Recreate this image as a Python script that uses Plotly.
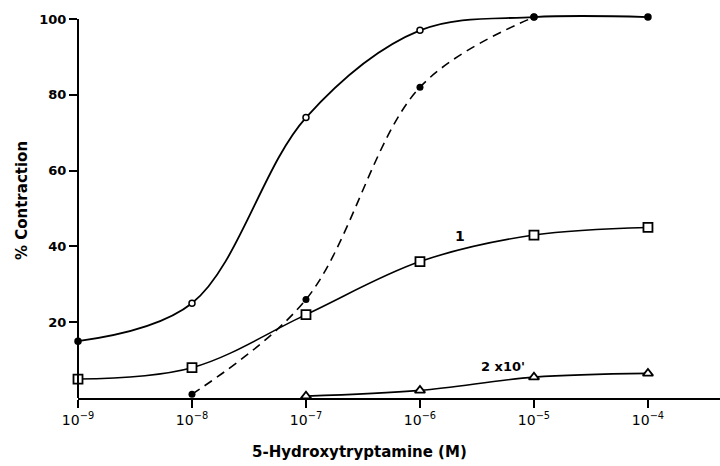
import plotly.graph_objects as go

conc = [1e-9, 1e-8, 1e-7, 1e-6, 1e-5, 1e-4]
control = [15, 25, 74, 97, 100.5, 100.5]
control_fill = ["black", "white", "white", "white", "black", "black"]
dashed_conc = [1e-8, 1e-7, 1e-6, 1e-5]
dashed_vals = [1, 26, 82, 100.5]
sq_vals = [5, 8, 22, 36, 43, 45]
tri_conc = [1e-7, 1e-6, 1e-5, 1e-4]
tri_vals = [0.5, 2, 5.5, 6.5]
xtick_vals = [1e-9, 1e-8, 1e-7, 1e-6, 1e-5, 1e-4]
xtick_text = ["10<sup>−9</sup>", "10<sup>−8</sup>", "10<sup>−7</sup>", "10<sup>−6</sup>", "10<sup>−5</sup>", "10<sup>−4</sup>"]
ytick_vals = [20, 40, 60, 80, 100]

T = 10
B = 466 - 398
px_per_unit = (398 - 19) / 100
Y_TOP = (398 - T) / px_per_unit

fig = go.Figure()
fig.add_trace(go.Scatter(
    x=dashed_conc, y=dashed_vals, mode="lines+markers",
    line=dict(color="black", width=1.6, dash="9px,6px", shape="spline", smoothing=1.0),
    marker=dict(symbol="circle", size=7, color="black"), cliponaxis=False))
fig.add_trace(go.Scatter(
    x=conc, y=control, mode="lines+markers",
    line=dict(color="black", width=1.8, shape="spline", smoothing=1.0),
    marker=dict(symbol="circle", size=6, color=control_fill, line=dict(color="black", width=1.5)),
    cliponaxis=False))
fig.add_trace(go.Scatter(
    x=conc, y=sq_vals, mode="lines+markers",
    line=dict(color="black", width=1.6, shape="spline", smoothing=1.0),
    marker=dict(symbol="square", size=9, color="white", line=dict(color="black", width=1.8)),
    cliponaxis=False))
fig.add_trace(go.Scatter(
    x=tri_conc, y=tri_vals, mode="lines+markers",
    line=dict(color="black", width=1.6, shape="spline", smoothing=1.0),
    marker=dict(symbol="triangle-up", size=9, color="white", line=dict(color="black", width=1.8)),
    cliponaxis=False))

# y axis line ending at the 100 tick
fig.add_shape(type="line", xref="paper", yref="y", x0=0, x1=0, y0=0, y1=100,
              line=dict(color="black", width=2))

fig.add_annotation(x=-5.65, y=42.7, xref="x", yref="y", text="1", showarrow=False,
                   font=dict(family="DejaVu Sans", size=14, color="black", weight="bold"))
fig.add_annotation(x=-5.27, y=8.4, xref="x", yref="y", text="2 x10'", showarrow=False,
                   font=dict(family="DejaVu Sans", size=13, color="black", weight="bold"))
fig.add_annotation(x=0.439, y=-0.139, xref="paper", yref="paper", xanchor="center", yanchor="middle",
                   text="5-Hydroxytryptamine (M)", showarrow=False,
                   font=dict(family="DejaVu Sans", size=15, color="black", weight="bold"))
fig.add_annotation(x=-0.087, y=0.508, xref="paper", yref="paper", xanchor="center", yanchor="middle",
                   text="% Contraction", textangle=-90, showarrow=False,
                   font=dict(family="DejaVu Sans", size=15, color="black", weight="bold"))

fig.update_layout(
    width=720, height=466, showlegend=False,
    plot_bgcolor="white", paper_bgcolor="white",
    margin=dict(l=78, r=0, t=T, b=B, pad=0),
    xaxis=dict(type="log", range=[-9, -3.368], tickvals=xtick_vals, ticktext=xtick_text,
               showgrid=False, zeroline=False, showline=True, linecolor="black", linewidth=2,
               ticks="outside", ticklen=8, tickwidth=1.5, tickcolor="black",
               tickfont=dict(family="DejaVu Sans", size=14, color="black")),
    yaxis=dict(range=[0, Y_TOP], tickvals=ytick_vals, showgrid=False, zeroline=False,
               showline=False,
               ticks="outside", ticklen=8, tickwidth=1.5, tickcolor="black",
               tickfont=dict(family="DejaVu Sans", size=13, color="black", weight="bold")),
)
fig.write_html("out.html", config={"displayModeBar": False},
               post_script="document.body.style.margin='0';document.body.style.overflow='hidden';")
